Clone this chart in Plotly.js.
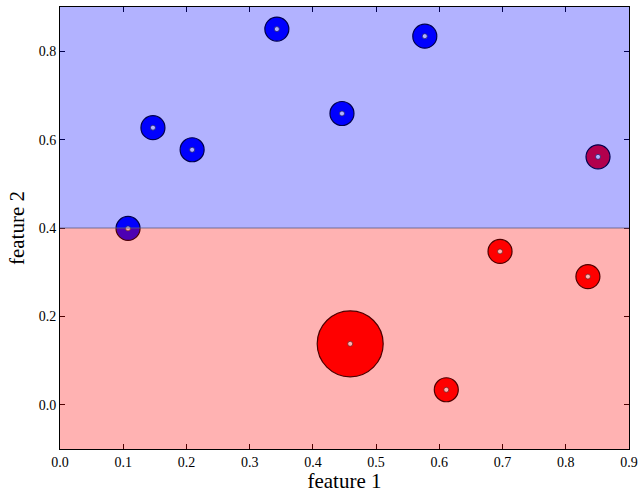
<!DOCTYPE html>
<html>
<head>
<meta charset="utf-8">
<script src="https://cdn.plot.ly/plotly-3.0.1.min.js"></script>
<style>html,body{margin:0;padding:0;background:#fff;}#chart{width:643px;height:493px;}</style>
</head>
<body>
<div id="chart"></div>
<script>
// Data
const blueX = [0.343, 0.577, 0.147, 0.209, 0.446, 0.1076];
const blueY = [0.850, 0.834, 0.627, 0.577, 0.659, 0.399];
const blueSize = [24, 24, 24, 24, 24, 24];

const redX = [0.851, 0.696, 0.835, 0.459, 0.611];
const redY = [0.561, 0.347, 0.290, 0.138, 0.034];
const redSize = [24, 24, 24, 66, 24];

const xTicks = [0.0, 0.1, 0.2, 0.3, 0.4, 0.5, 0.6, 0.7, 0.8, 0.9];
const yTicks = [0.0, 0.2, 0.4, 0.6, 0.8];
const boundaryY = 0.4;
const xRange = [0, 0.9];
const yRange = [-0.1, 0.9];

const allX = blueX.concat(redX);
const allY = blueY.concat(redY);

const traces = [
  {x: blueX, y: blueY, mode: 'markers', type: 'scatter', hoverinfo: 'skip',
   marker: {color: 'rgb(0,0,255)', opacity: 1, size: blueSize, line: {color: '#000', width: 1.2}}},
  {x: redX, y: redY, mode: 'markers', type: 'scatter', hoverinfo: 'skip',
   marker: {color: 'rgb(255,0,0)', opacity: 1, size: redSize, line: {color: '#000', width: 1.2}}},
  {x: allX, y: allY, mode: 'markers', type: 'scatter', hoverinfo: 'skip',
   marker: {color: '#fff', opacity: 1, size: 5, line: {color: '#333', width: 0.8}}}
];

const font = 'Liberation Serif, Times New Roman, serif';
const layout = {
  width: 643, height: 493,
  margin: {l: 60, r: 14, t: 7, b: 44},
  paper_bgcolor: '#fff', plot_bgcolor: '#fff',
  showlegend: false,
  font: {family: font, size: 14, color: '#000'},
  xaxis: {
    range: xRange, tickvals: xTicks, ticktext: xTicks.map(v => v.toFixed(1)),
    ticks: 'inside', ticklen: 5, tickcolor: '#000', tickwidth: 1,
    showline: true, linecolor: '#000', linewidth: 1, mirror: 'ticks',
    showgrid: false, zeroline: false,
    tickfont: {family: font, size: 14},
    title: {text: 'feature 1', font: {family: font, size: 21}, standoff: 7}
  },
  yaxis: {
    range: yRange, tickvals: yTicks, ticktext: yTicks.map(v => v.toFixed(1)),
    ticks: 'inside', ticklen: 5, tickcolor: '#000', tickwidth: 1,
    showline: true, linecolor: '#000', linewidth: 1, mirror: 'ticks',
    showgrid: false, zeroline: false,
    tickfont: {family: font, size: 14},
    title: {text: 'feature 2', font: {family: font, size: 21}, standoff: 8}
  },
  shapes: [
    {type: 'rect', layer: 'above', xref: 'x', yref: 'y', x0: xRange[0], x1: xRange[1], y0: boundaryY, y1: yRange[1],
     fillcolor: 'rgba(0,0,255,0.3)', line: {width: 0}},
    {type: 'rect', layer: 'above', xref: 'x', yref: 'y', x0: xRange[0], x1: xRange[1], y0: yRange[0], y1: boundaryY,
     fillcolor: 'rgba(255,0,0,0.3)', line: {width: 0}},
    {type: 'line', layer: 'above', xref: 'x', yref: 'y', x0: xRange[0], x1: xRange[1], y0: boundaryY, y1: boundaryY,
     line: {color: 'rgba(90,90,130,0.8)', width: 1.2}}
  ]
};

Plotly.newPlot('chart', traces, layout, {staticPlot: true, displayModeBar: false});
</script>
</body>
</html>
